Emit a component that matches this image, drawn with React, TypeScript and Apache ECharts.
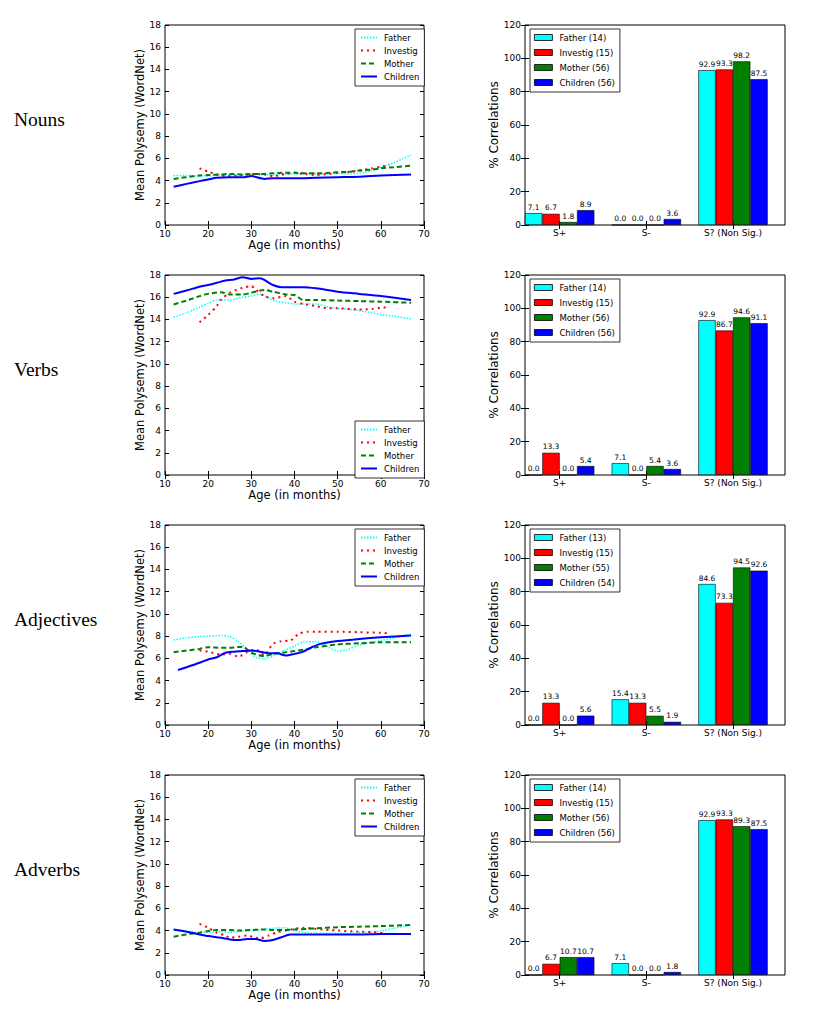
import React, { useEffect, useRef } from "react";
import * as echarts from "echarts";

const rowLabels = ["Nouns", "Verbs", "Adjectives", "Adverbs"];
const speakers = ["Father", "Investig", "Mother", "Children"];
const speakerColors = ["#00ffff", "#ff0000", "#008000", "#0000ff"];
const barCategories = ["S+", "S-", "S? (Non Sig.)"];
const lineYTicks = { min: 0, max: 18, interval: 2 };
const lineXTicks = { min: 10, max: 70, interval: 10 };
const barYTicks = { min: 0, max: 120, interval: 20 };

// ---- line data: [age in months, mean polysemy] ----
const nounsFather = [[12,4.45],[15,4.45],[18,4.4],[20,4.4],[23,4.5],[25,4.5],[28,4.5],[30,4.55],[33,4.55],[35,4.5],[38,4.6],[40,4.6],[43,4.6],[45,4.6],[48,4.6],[50,4.65],[53,4.6],[55,4.65],[58,4.9],[60,5.2],[63,5.6],[65,5.95],[67,6.3]];
const nounsInvestig = [[18,5.1],[20,4.8],[22,4.55],[25,4.4],[28,4.5],[30,4.6],[33,4.55],[35,4.4],[38,4.6],[40,4.7],[42,4.6],[45,4.5],[48,4.6],[50,4.7],[53,4.8],[55,4.9],[58,5.1],[60,5.25],[62,5.4]];
const nounsMother = [[12,4.15],[15,4.3],[18,4.45],[20,4.5],[23,4.55],[25,4.6],[28,4.55],[30,4.6],[33,4.6],[35,4.65],[38,4.7],[40,4.7],[43,4.65],[45,4.65],[48,4.7],[50,4.75],[53,4.8],[55,4.9],[58,5.0],[60,5.1],[63,5.2],[67,5.35]];
const nounsChildren = [[12,3.45],[15,3.7],[18,3.95],[20,4.1],[22,4.25],[25,4.3],[28,4.3],[30,4.4],[33,4.15],[35,4.2],[38,4.2],[40,4.2],[45,4.25],[50,4.3],[55,4.35],[60,4.45],[67,4.55]];

const verbsFather = [[12,14.2],[15,14.6],[18,15.1],[20,15.45],[22,15.75],[25,15.75],[28,16.0],[30,16.1],[32,16.3],[34,15.9],[36,15.6],[38,15.5],[40,15.4],[43,15.4],[45,15.4],[48,15.1],[50,15.0],[55,14.8],[60,14.45],[63,14.3],[67,14.05]];
const verbsInvestig = [[18,13.75],[20,14.4],[22,15.2],[23,15.8],[25,16.4],[28,16.85],[30,17.0],[31,16.7],[33,16.1],[35,15.9],[38,16.1],[40,15.6],[42,15.4],[45,15.2],[48,15.0],[50,15.0],[55,14.9],[58,14.95],[60,15.05],[62,15.1]];
const verbsMother = [[12,15.35],[15,15.7],[18,16.1],[20,16.3],[23,16.45],[25,16.25],[28,16.25],[30,16.4],[33,16.65],[35,16.5],[38,16.25],[40,16.2],[42,15.75],[45,15.75],[50,15.7],[55,15.65],[60,15.6],[67,15.5]];
const verbsChildren = [[12,16.3],[15,16.6],[18,16.95],[20,17.1],[22,17.3],[24,17.5],[26,17.6],[28,17.8],[30,17.65],[32,17.7],[35,17.1],[37,16.9],[40,16.9],[42,16.9],[45,16.8],[50,16.5],[55,16.3],[60,16.1],[67,15.75]];

const adjFather = [[12,7.65],[15,7.85],[18,7.95],[20,8.0],[23,8.05],[25,7.95],[27,7.5],[29,6.8],[31,6.1],[33,5.95],[35,6.2],[37,6.6],[40,7.1],[42,7.45],[45,7.5],[47,7.2],[50,6.65],[52,6.75],[55,7.2],[60,7.6],[65,8.0],[67,8.2]];
const adjInvestig = [[18,6.7],[20,6.6],[23,6.35],[25,6.4],[27,6.15],[29,6.55],[31,6.8],[33,6.3],[35,7.3],[37,7.55],[39,7.6],[41,8.2],[43,8.4],[45,8.4],[50,8.4],[55,8.35],[60,8.3],[62,8.25]];
const adjMother = [[12,6.55],[15,6.7],[18,6.85],[20,7.0],[23,6.95],[25,6.95],[28,7.05],[30,6.5],[33,6.2],[35,6.4],[38,6.55],[40,6.65],[43,6.85],[45,7.0],[50,7.25],[55,7.35],[60,7.45],[67,7.45]];
const adjChildren = [[13,4.95],[15,5.2],[18,5.6],[20,5.9],[22,6.1],[24,6.5],[26,6.6],[28,6.65],[30,6.7],[32,6.6],[34,6.45],[36,6.45],[38,6.25],[40,6.4],[42,6.6],[44,7.0],[46,7.3],[50,7.55],[55,7.75],[60,7.9],[67,8.05]];

const advFather = [[12,4.05],[15,3.95],[18,3.85],[20,3.85],[23,3.9],[25,3.85],[28,3.95],[30,4.0],[33,4.1],[35,4.2],[38,4.25],[40,4.0],[42,3.85],[45,3.75],[50,3.75],[55,3.8],[60,3.95],[63,4.2],[67,4.5]];
const advInvestig = [[18,4.6],[20,4.25],[22,3.8],[24,3.55],[25,3.35],[27,3.45],[29,3.55],[31,3.35],[32,3.3],[34,3.55],[36,3.85],[38,4.0],[40,4.15],[42,4.25],[45,4.15],[48,4.05],[50,4.0],[55,3.9],[58,3.85],[61,3.75]];
const advMother = [[12,3.45],[15,3.65],[18,3.8],[20,3.95],[22,4.05],[25,4.05],[27,4.0],[30,4.05],[33,4.1],[35,4.05],[38,4.05],[40,4.1],[43,4.15],[45,4.2],[50,4.3],[55,4.35],[60,4.4],[67,4.5]];
const advChildren = [[12,4.1],[15,3.9],[18,3.65],[20,3.5],[23,3.35],[25,3.2],[27,3.15],[29,3.25],[31,3.25],[33,3.05],[35,3.15],[37,3.4],[39,3.65],[42,3.65],[50,3.65],[55,3.65],[60,3.7],[67,3.7]];

const lineData = [
  [nounsFather, nounsInvestig, nounsMother, nounsChildren],
  [verbsFather, verbsInvestig, verbsMother, verbsChildren],
  [adjFather, adjInvestig, adjMother, adjChildren],
  [advFather, advInvestig, advMother, advChildren],
];

// ---- bar data: % correlations per category [S+, S-, S?] ----
const nounsBars = [[7.1, 0.0, 92.9], [6.7, 0.0, 93.3], [1.8, 0.0, 98.2], [8.9, 3.6, 87.5]];
const verbsBars = [[0.0, 7.1, 92.9], [13.3, 0.0, 86.7], [0.0, 5.4, 94.6], [5.4, 3.6, 91.1]];
const adjBars = [[0.0, 15.4, 84.6], [13.3, 13.3, 73.3], [0.0, 5.5, 94.5], [5.6, 1.9, 92.6]];
const advBars = [[0.0, 7.1, 92.9], [6.7, 0.0, 93.3], [10.7, 0.0, 89.3], [10.7, 1.8, 87.5]];
const barData = [nounsBars, verbsBars, adjBars, advBars];

const nounsCounts = [14, 15, 56, 56];
const verbsCounts = [14, 15, 56, 56];
const adjCounts = [13, 15, 55, 54];
const advCounts = [14, 15, 56, 56];
const barCounts = [nounsCounts, verbsCounts, adjCounts, advCounts];

const lineStyles = [
  { width: 1.5, type: [1.5, 1.5] },
  { width: 2, type: [2, 4] },
  { width: 2, type: [5, 3] },
  { width: 2, type: "solid" },
];

const FONT = "DejaVu Sans";

function buildOption() {
  const grid: any[] = [];
  const xAxis: any[] = [];
  const yAxis: any[] = [];
  const series: any[] = [];
  const legend: any[] = [];
  const graphic: any[] = [];

  const tickStyle = { inside: true, length: 4, lineStyle: { color: "#000", width: 1 } };
  const xLabelStyle = { fontFamily: FONT, fontSize: 9, color: "#000", margin: 4.5 };
  const yLabelStyle = { fontFamily: FONT, fontSize: 9, color: "#000", margin: 4 };

  const addAxes = (gi: number, xc: any, yc: any) => {
    const xi = xAxis.length;
    xAxis.push({
      gridIndex: gi, position: "bottom", axisLine: { show: false }, axisTick: tickStyle,
      axisLabel: xLabelStyle, splitLine: { show: false }, ...xc,
    });
    xAxis.push({
      gridIndex: gi, position: "top", type: xc.type, min: xc.min, max: xc.max, interval: xc.interval,
      axisLine: { show: false }, axisTick: { ...tickStyle, ...(xc.axisTick || {}) },
      axisLabel: { show: false }, splitLine: { show: false },
    });
    const yi = yAxis.length;
    yAxis.push({
      gridIndex: gi, position: "left", axisLine: { show: false }, axisTick: tickStyle,
      axisLabel: yLabelStyle, splitLine: { show: false }, ...yc,
    });
    yAxis.push({
      gridIndex: gi, position: "right", type: yc.type, min: yc.min, max: yc.max, interval: yc.interval,
      axisLine: { show: false }, axisTick: tickStyle,
      axisLabel: { show: false }, splitLine: { show: false },
    });
    return { xi, yi };
  };

  for (let r = 0; r < 4; r++) {
    const top = 25 + 250 * r;
    graphic.push({
      type: "text", left: 14, top: top + 84,
      style: { text: rowLabels[r], fontFamily: "Liberation Serif", fontSize: 19.5, fill: "#000" },
    });

    // line chart
    const gLine = grid.length;
    grid.push({ left: 165, top, width: 259, height: 200, show: true, borderColor: "#000", borderWidth: 1, backgroundColor: "#fff" });
    const la = addAxes(
      gLine,
      {
        type: "value", ...lineXTicks, name: "Age (in months)", nameLocation: "middle", nameGap: 10,
        nameTextStyle: { fontFamily: FONT, fontSize: 11.5, color: "#000", verticalAlign: "top" },
      },
      {
        type: "value", ...lineYTicks, name: "Mean Polysemy (WordNet)", nameLocation: "middle", nameGap: 17,
        nameTextStyle: { fontFamily: FONT, fontSize: 11.5, color: "#000" },
      }
    );
    speakers.forEach((sp, i) => {
      series.push({
        type: "line", name: sp, xAxisIndex: la.xi, yAxisIndex: la.yi, data: lineData[r][i],
        symbol: "none", showSymbol: false, smooth: 0.25, color: speakerColors[i],
        lineStyle: { color: speakerColors[i], ...lineStyles[i] }, z: 2 + i,
      });
    });
    legend.push({
      data: speakers, orient: "vertical", left: 355, top: r === 1 ? 421 : top + 4,
      itemWidth: 16, itemHeight: 8, itemGap: 4, selectedMode: false,
      itemStyle: { opacity: 0 },
      padding: [4, 5, 5, 5], borderColor: "#000", borderWidth: 0.8, backgroundColor: "#fff",
      textStyle: { fontFamily: FONT, fontSize: 8.5, color: "#000", padding: [0, 0, 0, 2] },
    });

    // bar chart
    const gBar = grid.length;
    grid.push({ left: 525, top, width: 260, height: 200, show: true, borderColor: "#000", borderWidth: 1, backgroundColor: "#fff" });
    const tickPos = barCategories.map((_, j) => j + 0.4);
    const ba = addAxes(
      gBar,
      {
        type: "value", min: 0, max: 3,
        axisTick: { ...tickStyle, customValues: tickPos },
        axisLabel: {
          ...xLabelStyle, margin: 3, customValues: tickPos,
          formatter: (v: number) => barCategories[Math.round(v - 0.4)] ?? "",
        },
      },
      {
        type: "value", ...barYTicks, name: "% Correlations", nameLocation: "middle", nameGap: 24,
        nameTextStyle: { fontFamily: FONT, fontSize: 12, color: "#000" },
      }
    );
    xAxis[ba.xi + 1].axisTick = { ...tickStyle, customValues: tickPos };
    const names = speakers.map((sp, i) => `${sp} (${barCounts[r][i]})`);
    speakers.forEach((sp, i) => {
      series.push({
        type: "bar", name: names[i], xAxisIndex: ba.xi, yAxisIndex: ba.yi,
        data: barCategories.map((_, j) => [j + 0.1 + 0.2 * i, barData[r][i][j]]),
        barWidth: (260 / 3) * 0.2, barGap: "-100%",
        color: speakerColors[i],
        itemStyle: { color: speakerColors[i], borderColor: "#000", borderWidth: 0.6 },
        label: {
          show: true, position: "top", distance: 2, fontFamily: FONT, fontSize: 7.5, color: "#000",
          formatter: (p: any) => Number(p.value[1]).toFixed(1),
        },
      });
    });
    legend.push({
      data: names, orient: "vertical", left: 530, top: top + 4,
      itemWidth: 18, itemHeight: 6, itemGap: 6, selectedMode: false, icon: "rect",
      itemStyle: { borderColor: "#000", borderWidth: 0.8 },
      padding: [4, 5, 5, 4], borderColor: "#000", borderWidth: 0.8, backgroundColor: "#fff",
      textStyle: { fontFamily: FONT, fontSize: 8.5, color: "#000", padding: [0, 0, 0, 2] },
    });
  }

  return {
    animation: false,
    backgroundColor: "#fff",
    textStyle: { fontFamily: FONT },
    grid, xAxis, yAxis, series, legend, graphic,
  };
}

export default function App() {
  const ref = useRef<HTMLDivElement>(null);
  useEffect(() => {
    if (!ref.current) return;
    const chart = echarts.init(ref.current, undefined, { renderer: "svg" });
    chart.setOption(buildOption() as any);
    return () => chart.dispose();
  }, []);
  return (
    <div
      ref={ref}
      style={{ position: "absolute", left: 0, top: 0, width: 831, height: 1012, background: "#fff" }}
    />
  );
}
